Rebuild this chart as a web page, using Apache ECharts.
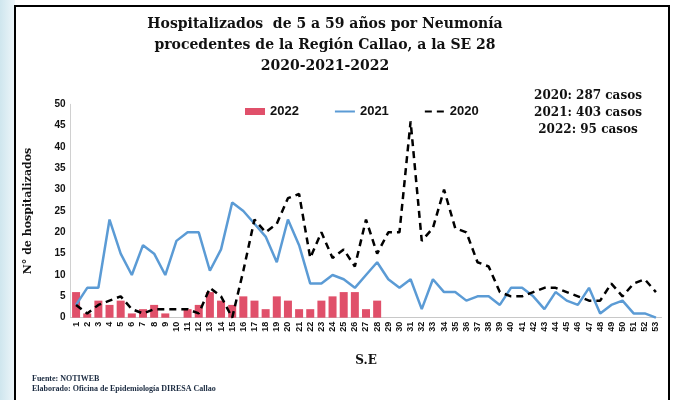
<!DOCTYPE html>
<html>
<head>
<meta charset="utf-8">
<script src="https://cdn.jsdelivr.net/npm/echarts@6/dist/echarts.min.js"></script>
<style>
html,body{margin:0;padding:0;background:#fff;}
#c{width:673px;height:400px;}
</style>
</head>
<body>
<div id="c"></div>
<script>
var weeks = ['1','2','3','4','5','6','7','8','9','10','11','12','13','14','15','16','17','18','19','20','21','22','23','24','25','26','27','28','29','30','31','32','33','34','35','36','37','38','39','40','41','42','43','44','45','46','47','48','49','50','51','52','53'];
var v2022 = [6,1,4,3,4,1,2,3,1,0,2,3,6,4,3,5,4,2,5,4,2,2,4,5,6,6,2,4];
var v2021 = [3,7,7,23,15,10,17,15,10,18,20,20,11,16,27,25,22,19,13,23,17,8,8,10,9,7,10,13,9,7,9,2,9,6,6,4,5,5,3,7,7,5,2,6,4,3,7,1,3,4,1,1,0];
var v2020 = [3,1,3,4,5,2,1,2,2,2,2,1,7,5,0,11,23,20,22,28,29,14,20,14,16,12,23,15,20,20,46,18,21,30,21,20,13,12,6,5,5,6,7,7,6,5,4,4,8,5,8,9,6];
var titleLines = ['Hospitalizados  de 5 a 59 años por Neumonía','procedentes de la Región Callao, a la SE 28','2020-2021-2022'];
var totals = ['2020: 287 casos','2021: 403 casos','2022: 95 casos'];
var footer = ['Fuente: NOTIWEB','Elaborado: Oficina de Epidemiología DIRESA Callao'];

var serif = '"DejaVu Serif", serif';
var sans = '"Liberation Sans", Arial, sans-serif';

var chart = echarts.init(document.getElementById('c'));
var graphics = [
  {type:'rect', shape:{x:0,y:0,width:15,height:400}, style:{fill:new echarts.graphic.LinearGradient(0,0,1,0,[{offset:0,color:'#cfe6ee'},{offset:1,color:'#eef6fa'}])}, z:0},
  {type:'rect', shape:{x:15,y:6,width:654,height:400}, style:{fill:'#fff',stroke:'#000',lineWidth:2}, z:0}
];
titleLines.forEach(function(t,i){
  graphics.push({type:'text', x:325, y:24+i*21, style:{text:t, font:'bold 14px '+serif, fill:'#111', textAlign:'center', textVerticalAlign:'middle'}, z:5});
});
totals.forEach(function(t,i){
  graphics.push({type:'text', x:588, y:96+i*17, style:{text:t, font:'bold 12px '+serif, fill:'#111', textAlign:'center', textVerticalAlign:'middle'}, z:5});
});
footer.forEach(function(t,i){
  graphics.push({type:'text', x:32, y:379+i*10, style:{text:t, font:'bold 8px "Liberation Serif", serif', fill:'#1a2a40', textAlign:'left', textVerticalAlign:'middle'}, z:5});
});

chart.setOption({
  animation:false,
  graphic:graphics,
  grid:{left:70.5, right:11.5, top:104.3, bottom:82.3},
  legend:{
    left:240, top:100, itemGap:35, itemWidth:20, itemHeight:7,
    textStyle:{fontFamily:sans, fontWeight:'bold', fontSize:13, color:'#111'},
    data:[{name:'2022', icon:'rect'},{name:'2021', itemStyle:{opacity:0}},{name:'2020', itemStyle:{opacity:0}}]
  },
  xAxis:{
    type:'category', data:weeks,
    name:'S.E', nameLocation:'middle', nameGap:37,
    nameTextStyle:{fontFamily:serif, fontWeight:'bold', fontSize:12, color:'#111'},
    axisLine:{lineStyle:{color:'#c8c8c8', width:1}},
    axisTick:{show:false},
    axisLabel:{rotate:90, interval:0, margin:4, fontFamily:sans, fontWeight:'bold', fontSize:9, color:'#111'}
  },
  yAxis:{
    type:'value', min:0, max:50, interval:5,
    name:'N° de hospitalizados', nameLocation:'middle', nameGap:37,
    nameTextStyle:{fontFamily:serif, fontWeight:'bold', fontSize:11, color:'#111'},
    axisLine:{show:true, lineStyle:{color:'#d0d0d0', width:1}},
    axisTick:{show:false},
    splitLine:{show:false},
    axisLabel:{margin:5, fontFamily:sans, fontWeight:'bold', fontSize:10, color:'#111'}
  },
  series:[
    {name:'2022', type:'bar', data:v2022, barWidth:8, itemStyle:{color:'#e0506a'}, z:2},
    {name:'2021', type:'line', data:v2021, symbol:'none', lineStyle:{color:'#5b9bd5', width:2.5}, itemStyle:{color:'#5b9bd5'}, z:3},
    {name:'2020', type:'line', data:v2020, symbol:'none', lineStyle:{color:'#000', width:2.5, type:[7,5]}, itemStyle:{color:'#000'}, z:4}
  ]
});
</script>
</body>
</html>
